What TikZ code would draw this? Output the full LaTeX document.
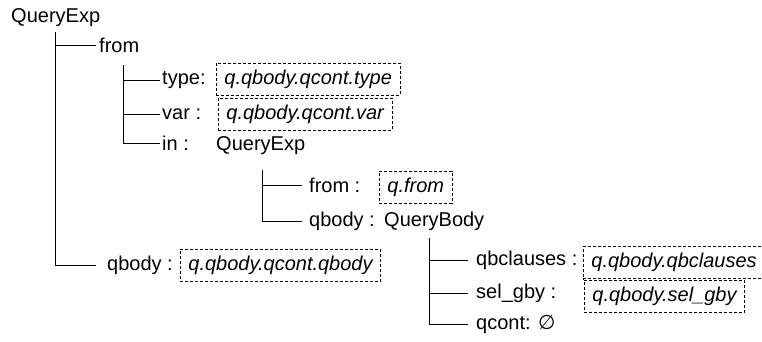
\documentclass[tikz,border=0pt]{standalone}
\usepackage{fontspec}
\setmainfont{Liberation Sans}
\newfontfamily\symfont{DejaVu Sans}
\usepackage{tikz}
\tikzstyle{field} = [anchor=mid west, inner sep=0pt, font=\fontsize{20}{24}\selectfont]
\tikzstyle{valbox} = [field, draw=black, line width=0.8pt, dash pattern=on 3pt off 2pt, inner xsep=8pt, inner ysep=7pt, font=\fontsize{20}{24}\selectfont\itshape]
\tikzstyle{branch} = [line width=0.9pt]

\begin{document}
\begin{tikzpicture}[x=1pt, y=-1pt]
  \useasboundingbox (0,0) rectangle (762,341);

  % Nodes
  \node (root) [field] at (11,20) {QueryExp};
  \node (from) [field] at (99,50) {from};
  \node (qbody) [field] at (107,268) {qbody :};
  \node (qbodyval) [valbox] at (180,268) {q.qbody.qcont.qbody};

  \node (type) [field] at (162,82) {type:};
  \node (typeval) [valbox] at (216,82) {q.qbody.qcont.type};
  \node (var) [field] at (162,117) {var :};
  \node (varval) [valbox] at (218,117) {q.qbody.qcont.var};
  \node (in) [field] at (162,148) {in :};
  \node (inexp) [field] at (216,148) {QueryExp};

  \node (infrom) [field] at (309,190) {from :};
  \node (infromval) [valbox] at (379,190) {q.from};
  \node (inqbody) [field] at (309,224) {qbody :};
  \node (qbodytype) [field] at (384,224) {QueryBody};

  \node (qbclauses) [field] at (476,263) {qbclauses :};
  \node (qbclausesval) [valbox, minimum width=190pt, text width=174pt] at (583,265) {q.qbody.qbclauses};
  \node (selgby) [field] at (476,296) {sel\_gby :};
  \node (selgbyval) [valbox] at (584,299) {q.qbody.sel\_gby};
  \node (qcont) [field] at (476,327) {qcont: {\symfont ∅}};

  % Trunks
  \coordinate (t1) at (55.5,32);
  \coordinate (t2) at (123,65);
  \coordinate (t3) at (262,170);
  \coordinate (t4) at (429,238);

  % Branches
  \draw [branch] (t1) |- ([xshift=-3pt]from.west);
  \draw [branch] (t1) |- ([xshift=-11pt]qbody.west);

  \draw [branch] (t2) |- ([xshift=-2pt]type.west);
  \draw [branch] (t2) |- ([xshift=-2pt]var.west);
  \draw [branch] (t2) |- ([xshift=-2pt]in.west);

  \draw [branch] (t3) |- ([xshift=-7pt]infrom.west);
  \draw [branch] (t3) |- ([xshift=-7pt]inqbody.west);

  \draw [branch] (t4) |- ([xshift=-8pt]qbclauses.west);
  \draw [branch] (t4) |- ([xshift=-8pt]selgby.west);
  \draw [branch] (t4) |- ([xshift=-8pt]qcont.west);

\end{tikzpicture}
\end{document}
